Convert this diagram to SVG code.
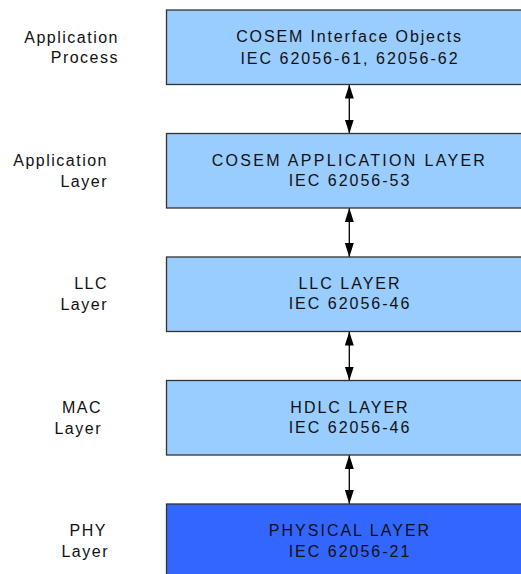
<svg xmlns="http://www.w3.org/2000/svg" width="521" height="574" viewBox="0 0 521 574">
<defs>
<style>
.box{fill:#99CCFF;stroke:#333333;stroke-width:1.3}
.phy{fill:#3366FF;stroke:#333333;stroke-width:1.3}
.t{font-family:"Liberation Sans",Arial,sans-serif;font-size:16px;fill:#111111;letter-spacing:2px;text-anchor:middle}
.l{font-family:"Liberation Sans",Arial,sans-serif;font-size:16px;fill:#111111;letter-spacing:1.5px;text-anchor:end}
.c{stroke:#000000;stroke-width:1.3;fill:none;marker-start:url(#ah);marker-end:url(#ah)}
</style>
<marker id="ah" viewBox="0 0 14 9" refX="14" refY="4.5" markerWidth="14" markerHeight="9" markerUnits="userSpaceOnUse" orient="auto-start-reverse">
<path d="M0,0 L14,4.5 L0,9 Z" fill="#000000"/>
</marker>
</defs>
<g id="labels">
<text class="l" x="119" y="42.7">Application</text>
<text class="l" x="119" y="62.7">Process</text>
<text class="l" x="108" y="166">Application</text>
<text class="l" x="108" y="187">Layer</text>
<text class="l" x="108" y="289">LLC</text>
<text class="l" x="108" y="310">Layer</text>
<text class="l" x="102" y="413.3">MAC</text>
<text class="l" x="102" y="434">Layer</text>
<text class="l" x="107" y="535.7">PHY</text>
<text class="l" x="109" y="556.7">Layer</text>
</g>
<g id="connectors">
<line class="c" x1="349.3" y1="84.5" x2="349.3" y2="133.5"/>
<line class="c" x1="349.3" y1="208" x2="349.3" y2="257"/>
<line class="c" x1="349.3" y1="331.5" x2="349.3" y2="380.5"/>
<line class="c" x1="349.3" y1="455" x2="349.3" y2="504"/>
</g>
<g id="cosem-interface-objects">
<rect class="box" x="166.5" y="10" width="380" height="74.5"/>
<text class="t" x="349.5" y="41.7" style="letter-spacing:1.85px">COSEM Interface Objects</text>
<text class="t" x="350" y="64.3">IEC 62056-61, 62056-62</text>
</g>
<g id="cosem-application-layer">
<rect class="box" x="166.5" y="133.5" width="380" height="74.5"/>
<text class="t" x="349.5" y="165.7" style="letter-spacing:2.3px">COSEM APPLICATION LAYER</text>
<text class="t" x="350" y="185.7">IEC 62056-53</text>
</g>
<g id="llc-layer">
<rect class="box" x="166.5" y="257" width="380" height="74.5"/>
<text class="t" x="350" y="289.2">LLC LAYER</text>
<text class="t" x="350" y="309.2">IEC 62056-46</text>
</g>
<g id="hdlc-layer">
<rect class="box" x="166.5" y="380.5" width="380" height="74.5"/>
<text class="t" x="350" y="412.7">HDLC LAYER</text>
<text class="t" x="350" y="432.7">IEC 62056-46</text>
</g>
<g id="physical-layer">
<rect class="phy" x="166.5" y="504" width="380" height="80"/>
<text class="t" x="350" y="536.2">PHYSICAL LAYER</text>
<text class="t" x="350" y="556.7">IEC 62056-21</text>
</g>
</svg>
